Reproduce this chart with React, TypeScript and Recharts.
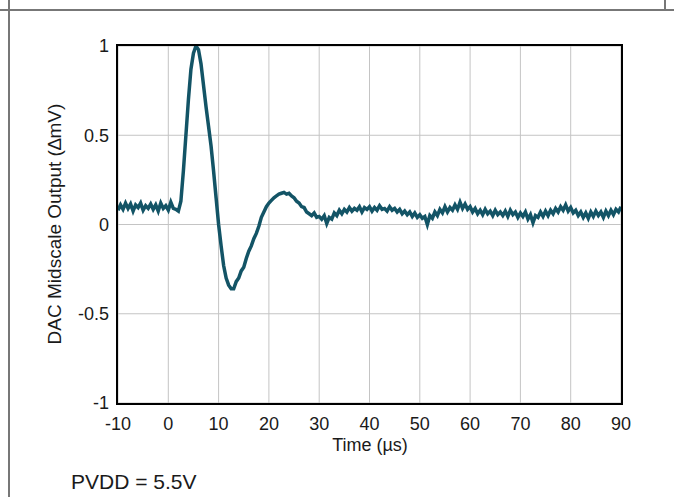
import React from "react";
import { LineChart, Line, CartesianGrid, XAxis, YAxis } from "recharts";

// scope capture sampled every 0.5 µs
const SAMPLE_STEP = 0.5;

// -10 µs .. 2 µs : quiet baseline before the code change
const BASELINE_START = -10;
const baselineValues = [
  0.08, 0.11, 0.085, 0.12, 0.09, 0.115, 0.075, 0.11, 0.095, 0.12,
  0.08, 0.105, 0.09, 0.115, 0.085, 0.11, 0.075, 0.12, 0.09, 0.105,
  0.08, 0.125, 0.09, 0.085, 0.075,
];

// 2.5 µs .. 30 µs : glitch and ringing
const PULSE_START = 2.5;
const pulseValues = [
  0.13, 0.3, 0.5, 0.7, 0.87, 0.96, 1.0, 0.98, 0.9, 0.78,
  0.66, 0.55, 0.44, 0.3, 0.15, 0.0, -0.12, -0.23, -0.3, -0.34,
  -0.36, -0.36, -0.32, -0.3, -0.26, -0.24, -0.19, -0.15, -0.12, -0.08,
  -0.05, -0.01, 0.04, 0.07, 0.1, 0.12, 0.135, 0.15, 0.16, 0.17,
  0.175, 0.18, 0.17, 0.175, 0.16, 0.15, 0.13, 0.12, 0.1, 0.095,
  0.07, 0.06, 0.05, 0.065, 0.04, 0.045,
];

// 30.5 µs .. 90 µs : settled tail
const TAIL_START = 30.5;
const tailValues = [
  0.03, 0.05, 0.005, 0.04, 0.03, 0.065, 0.05, 0.08, 0.06, 0.085,
  0.07, 0.095, 0.075, 0.09, 0.08, 0.1, 0.07, 0.095, 0.085, 0.1,
  0.075, 0.095, 0.08, 0.105, 0.085, 0.09, 0.075, 0.1, 0.08, 0.09,
  0.07, 0.085, 0.06, 0.075, 0.055, 0.07, 0.045, 0.065, 0.04, 0.055,
  0.035, 0.045, 0.0, 0.05, 0.035, 0.07, 0.05, 0.085, 0.065, 0.1,
  0.07, 0.095, 0.08, 0.11, 0.085, 0.125, 0.09, 0.115, 0.085, 0.1,
  0.07, 0.09, 0.06, 0.08, 0.055, 0.085, 0.06, 0.075, 0.05, 0.08,
  0.055, 0.07, 0.05, 0.075, 0.045, 0.08, 0.055, 0.07, 0.04, 0.065,
  0.045, 0.07, 0.03, 0.055, 0.01, 0.05, 0.04, 0.07, 0.045, 0.075,
  0.05, 0.08, 0.06, 0.09, 0.07, 0.1, 0.08, 0.11, 0.075, 0.095,
  0.065, 0.08, 0.05, 0.07, 0.04, 0.065, 0.035, 0.07, 0.045, 0.075,
  0.05, 0.07, 0.04, 0.075, 0.05, 0.08, 0.055, 0.085, 0.07, 0.1,
];

const xTicks = [-10, 0, 10, 20, 30, 40, 50, 60, 70, 80, 90];
const yTicks = [-1, -0.5, 0, 0.5, 1];

const segment = (start: number, values: number[]) =>
  values.map((v, i) => ({ t: start + i * SAMPLE_STEP, v }));

const data = [
  ...segment(BASELINE_START, baselineValues),
  ...segment(PULSE_START, pulseValues),
  ...segment(TAIL_START, tailValues),
];

const FONT = "'Liberation Sans', Arial, sans-serif";
const TRACE = "#135466";
const TEXT = "#1a1a1a";

const tickStyle = { fill: TEXT, fontSize: 18, fontFamily: FONT };

export default function App() {
  return (
    <div style={{ position: "relative", width: 674, height: 497, background: "#fff" }}>
      <style>{`body{margin:0}`}</style>
      {/* page frame lines */}
      <div style={{ position: "absolute", left: 0, top: 9, width: 674, height: 2, background: "#777" }} />
      <div style={{ position: "absolute", left: 8, top: 0, width: 2, height: 497, background: "#777" }} />
      <div style={{ position: "absolute", left: 664, top: 0, width: 2, height: 10, background: "#777" }} />

      <LineChart
        width={674}
        height={497}
        data={data}
        margin={{ top: 46, right: 53, bottom: 54, left: 0 }}
        style={{ position: "absolute", left: 0, top: 0 }}
      >
        <CartesianGrid stroke="#c4c4c4" strokeWidth={1} />
        <XAxis
          dataKey="t"
          type="number"
          domain={[-10, 90]}
          ticks={xTicks}
          interval={0}
          height={40}
          tick={tickStyle}
          tickLine={false}
          axisLine={false}
          tickSize={0}
          tickMargin={14}
          allowDataOverflow
        />
        <YAxis
          type="number"
          domain={[-1, 1]}
          ticks={yTicks}
          interval={0}
          width={118}
          tick={tickStyle}
          tickLine={false}
          axisLine={false}
          tickSize={0}
          tickMargin={9}
          allowDataOverflow
        />
        <Line
          type="linear"
          dataKey="v"
          stroke={TRACE}
          strokeWidth={3.5}
          dot={false}
          isAnimationActive={false}
        />
      </LineChart>

      {/* plot frame */}
      <div
        style={{
          position: "absolute",
          left: 116,
          top: 44,
          width: 503,
          height: 357,
          border: "2.5px solid #000",
          pointerEvents: "none",
        }}
      />

      <div
        style={{
          position: "absolute",
          left: 370,
          top: 436,
          transform: "translateX(-50%)",
          fontFamily: FONT,
          fontSize: 18,
          lineHeight: "18px",
          color: TEXT,
          whiteSpace: "nowrap",
        }}
      >
        Time (µs)
      </div>
      <div
        style={{
          position: "absolute",
          left: 55,
          top: 224,
          transform: "translate(-50%, -50%) rotate(-90deg)",
          fontFamily: FONT,
          fontSize: 19,
          color: TEXT,
          whiteSpace: "nowrap",
        }}
      >
        DAC Midscale Output (∆mV)
      </div>
      <div
        style={{
          position: "absolute",
          left: 71,
          top: 470,
          fontFamily: FONT,
          fontSize: 21,
          color: TEXT,
          whiteSpace: "nowrap",
        }}
      >
        PVDD = 5.5V
      </div>
    </div>
  );
}
